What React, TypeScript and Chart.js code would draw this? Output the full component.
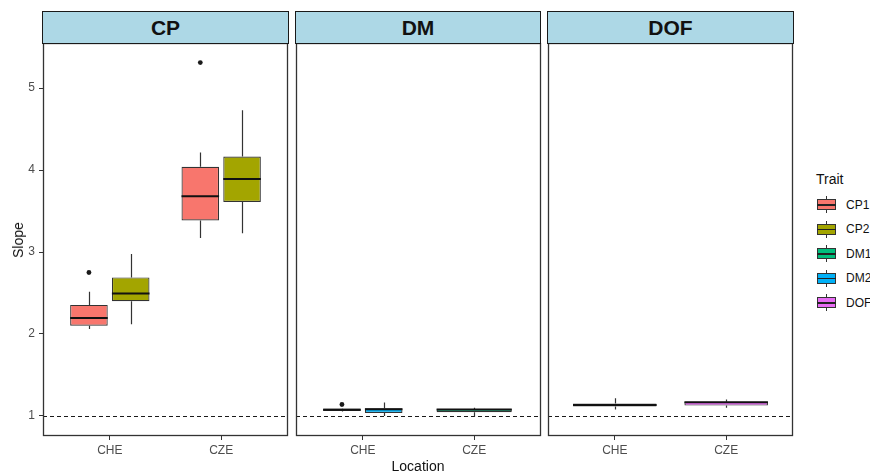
import React, { useEffect, useRef } from 'react';
import { Chart, registerables } from 'chart.js';
Chart.register(...registerables);

// ---------- data ----------
const locations = ['CHE', 'CZE'];
const panels = ['CP', 'DM', 'DOF'];
const traits = ['CP1', 'CP2', 'DM1', 'DM2', 'DOF'];
const traitPanel = ['CP', 'CP', 'DM', 'DM', 'DOF'];
const traitColors = ['#F8766D', '#A3A500', '#00BF7D', '#00B0F6', '#E76BF3'];
// five-number summaries [lower whisker, Q1, median, Q3, upper whisker] per location (CHE, CZE)
const CP1 = [[2.06, 2.10, 2.195, 2.355, 2.515], [3.17, 3.385, 3.68, 4.04, 4.215]];
const CP2 = [[2.12, 2.40, 2.495, 2.69, 2.975], [3.23, 3.61, 3.89, 4.165, 4.73]];
const DM1 = [[1.055, 1.06, 1.075, 1.09, 1.095], [0.99, 1.045, 1.078, 1.085, 1.10]];
const DM2 = [[1.0, 1.037, 1.082, 1.094, 1.165], null];
const DOF = [[1.08, 1.117, 1.135, 1.153, 1.215], [1.10, 1.127, 1.168, 1.175, 1.20]];
// outliers per location (CHE, CZE)
const CP1_out = [[2.75], [5.31]];
const CP2_out = [[], []];
const DM1_out = [[1.14], []];
const DM2_out = [[], []];
const DOF_out = [[], []];
const yTicks = [1, 2, 3, 4, 5];
const yMin = 0.756;
const yMax = 5.549;
const refLine = 1;

const traitStats = [CP1, CP2, DM1, DM2, DOF];
const traitOut = [CP1_out, CP2_out, DM1_out, DM2_out, DOF_out];

// ---------- layout ----------
const FONT = "'Liberation Sans', Arial, Helvetica, sans-serif";
const CANVAS_TOP = 40;
const CANVAS_H = 432;
const panelLayout = [
  { left: 0, width: 292, padL: 0, padR: 4, yAxis: true },
  { left: 292, width: 252, padL: 4, padR: 3, yAxis: false },
  { left: 544, width: 253, padL: 4, padR: 4, yAxis: false },
];
const stripLayout = [
  { left: 43, width: 246 },
  { left: 296, width: 245 },
  { left: 548, width: 246 },
];

const boxPlugin = {
  id: 'boxExtras',
  beforeDatasetsDraw(chart: any) {
    const { ctx, chartArea, scales } = chart;
    const y = Math.round(scales.y.getPixelForValue(refLine)) + 0.5;
    ctx.save();
    ctx.strokeStyle = '#1a1a1a';
    ctx.lineWidth = 1.1;
    ctx.setLineDash([4, 3]);
    ctx.beginPath();
    ctx.moveTo(chartArea.left, y);
    ctx.lineTo(chartArea.right, y);
    ctx.stroke();
    ctx.restore();
  },
  afterDatasetsDraw(chart: any) {
    const { ctx, chartArea, scales } = chart;
    const ys = scales.y;
    ctx.save();
    chart.data.datasets.forEach((ds: any, di: number) => {
      const meta = chart.getDatasetMeta(di);
      meta.data.forEach((el: any, j: number) => {
        const raw = ds.data[j];
        if (!raw || !raw.s) return;
        const [lo, q1, med, q3, hi] = raw.s;
        const { x, width } = el.getProps(['x', 'width'], true);
        const cx = Math.round(x) + 0.5;
        ctx.strokeStyle = '#333333';
        ctx.lineWidth = 1.2;
        ctx.beginPath();
        ctx.moveTo(cx, ys.getPixelForValue(hi));
        ctx.lineTo(cx, ys.getPixelForValue(q3));
        ctx.moveTo(cx, ys.getPixelForValue(q1));
        ctx.lineTo(cx, ys.getPixelForValue(lo));
        ctx.stroke();
        ctx.strokeStyle = '#111111';
        ctx.lineWidth = 2;
        ctx.beginPath();
        const my = ys.getPixelForValue(med);
        ctx.moveTo(x - width / 2, my);
        ctx.lineTo(x + width / 2, my);
        ctx.stroke();
        ctx.fillStyle = '#1a1a1a';
        (raw.o || []).forEach((v: number) => {
          ctx.beginPath();
          ctx.arc(x, ys.getPixelForValue(v), 2.4, 0, Math.PI * 2);
          ctx.fill();
        });
      });
    });
    ctx.strokeStyle = '#333333';
    ctx.lineWidth = 1.3;
    ctx.strokeRect(chartArea.left + 0.5, chartArea.top + 0.5, chartArea.right - chartArea.left - 1, chartArea.bottom - chartArea.top - 1);
    ctx.restore();
  },
};

function buildConfig(pi: number): any {
  const panel = panels[pi];
  const lay = panelLayout[pi];
  const idxs = traits.map((t, i) => i).filter((i) => traitPanel[i] === panel);
  const datasets = idxs.map((ti) => ({
    type: 'bar',
    label: traits[ti],
    data: locations
      .map((loc, li) => {
        const s = traitStats[ti][li];
        return s ? { x: li + 1, y: [s[1], s[3]], s, o: traitOut[ti][li] } : null;
      })
      .filter((d) => d !== null),
    backgroundColor: traitColors[ti],
    borderColor: '#333333',
    borderWidth: 1.2,
    borderSkipped: false,
    skipNull: true,
    categoryPercentage: 0.75,
    barPercentage: idxs.length === 1 ? 1 : 0.9,
  }));
  return {
    type: 'bar',
    data: { datasets },
    plugins: [boxPlugin],
    options: {
      animation: false,
      responsive: false,
      devicePixelRatio: 1,
      layout: { padding: { top: 3, left: lay.padL, right: lay.padR, bottom: 0 } },
      plugins: { legend: { display: false }, tooltip: { enabled: false } },
      scales: {
        x: {
          type: 'linear',
          min: 0.4,
          max: 2.6,
          offset: false,
          afterBuildTicks: (scale: any) => {
            scale.ticks = locations.map((l, i) => ({ value: i + 1 }));
          },
          afterFit: (scale: any) => {
            scale.height = 36;
            scale.paddingLeft = 0;
            scale.paddingRight = 0;
            scale.paddingTop = 0;
            scale.paddingBottom = 0;
          },
          ticks: {
            callback: (v: any) => locations[Math.round(v) - 1],
            color: '#4D4D4D',
            font: { family: FONT, size: 12 },
            padding: 3,
            maxRotation: 0,
            autoSkip: false,
          },
          grid: {
            display: true,
            offset: false,
            drawOnChartArea: false,
            drawTicks: true,
            tickLength: 4,
            color: '#333333',
            lineWidth: 1,
          },
          border: { display: false },
        },
        y: {
          type: 'linear',
          display: lay.yAxis,
          min: yMin,
          max: yMax,
          afterBuildTicks: (scale: any) => {
            scale.ticks = yTicks.map((v) => ({ value: v }));
          },
          afterFit: (scale: any) => {
            scale.width = lay.yAxis ? 43 : 0;
            scale.paddingLeft = 0;
            scale.paddingRight = 0;
            scale.paddingTop = 0;
            scale.paddingBottom = 0;
          },
          ticks: {
            color: '#4D4D4D',
            font: { family: FONT, size: 12 },
            padding: 4,
            callback: (v: any) => String(v),
          },
          grid: {
            display: true,
            drawOnChartArea: false,
            drawTicks: true,
            tickLength: 4,
            color: '#333333',
            lineWidth: 1,
          },
          border: { display: false },
        },
      },
    },
  };
}

function Panel({ pi }: { pi: number }) {
  const ref = useRef<HTMLCanvasElement>(null);
  const lay = panelLayout[pi];
  useEffect(() => {
    const chart = new Chart(ref.current as HTMLCanvasElement, buildConfig(pi));
    return () => chart.destroy();
  }, [pi]);
  return (
    <canvas
      ref={ref}
      width={lay.width}
      height={CANVAS_H}
      style={{ position: 'absolute', left: lay.left, top: CANVAS_TOP, width: lay.width, height: CANVAS_H }}
    />
  );
}

function LegendKey({ color }: { color: string }) {
  return (
    <div style={{ position: 'relative', width: 19, height: 17 }}>
      <div style={{ position: 'absolute', left: 9, top: 0, width: 1, height: 17, background: '#333' }} />
      <div
        style={{
          position: 'absolute',
          left: 0,
          top: 3,
          width: 19,
          height: 11,
          boxSizing: 'border-box',
          border: '1px solid #333',
          background: color,
        }}
      />
      <div style={{ position: 'absolute', left: 0, top: 8, width: 19, height: 1.5, background: '#222' }} />
    </div>
  );
}

export default function App() {
  return (
    <div
      style={{
        position: 'fixed',
        left: 0,
        top: 0,
        width: 870,
        height: 472,
        background: '#ffffff',
        overflow: 'hidden',
        fontFamily: FONT,
      }}
    >
      {panels.map((p, i) => (
        <Panel key={p} pi={i} />
      ))}
      {panels.map((p, i) => (
        <div
          key={'s' + p}
          style={{
            position: 'absolute',
            left: stripLayout[i].left - 1,
            top: 11,
            width: stripLayout[i].width + 1,
            height: 33,
            boxSizing: 'border-box',
            border: '1.6px solid #1a1a1a',
            background: '#ADD8E6',
            display: 'flex',
            alignItems: 'center',
            justifyContent: 'center',
            fontWeight: 'bold',
            fontSize: 21,
            color: '#111',
            zIndex: 2,
          }}
        >
          {p}
        </div>
      ))}
      <div
        style={{
          position: 'absolute',
          left: 18,
          top: 240,
          transform: 'translate(-50%, -50%) rotate(-90deg)',
          fontSize: 14,
          color: '#111',
          whiteSpace: 'nowrap',
        }}
      >
        Slope
      </div>
      <div
        style={{
          position: 'absolute',
          left: 418,
          top: 466,
          transform: 'translate(-50%, -50%)',
          fontSize: 14,
          color: '#111',
          whiteSpace: 'nowrap',
        }}
      >
        Location
      </div>
      <div style={{ position: 'absolute', left: 816, top: 171, fontSize: 14, color: '#111', lineHeight: '17px' }}>
        Trait
      </div>
      {traits.map((t, i) => (
        <div
          key={t}
          style={{
            position: 'absolute',
            left: 817,
            top: 196 + i * 24.5,
            display: 'flex',
            alignItems: 'center',
            height: 17,
          }}
        >
          <LegendKey color={traitColors[i]} />
          <span style={{ marginLeft: 10, fontSize: 12, color: '#111', whiteSpace: 'nowrap' }}>{t}</span>
        </div>
      ))}
    </div>
  );
}
